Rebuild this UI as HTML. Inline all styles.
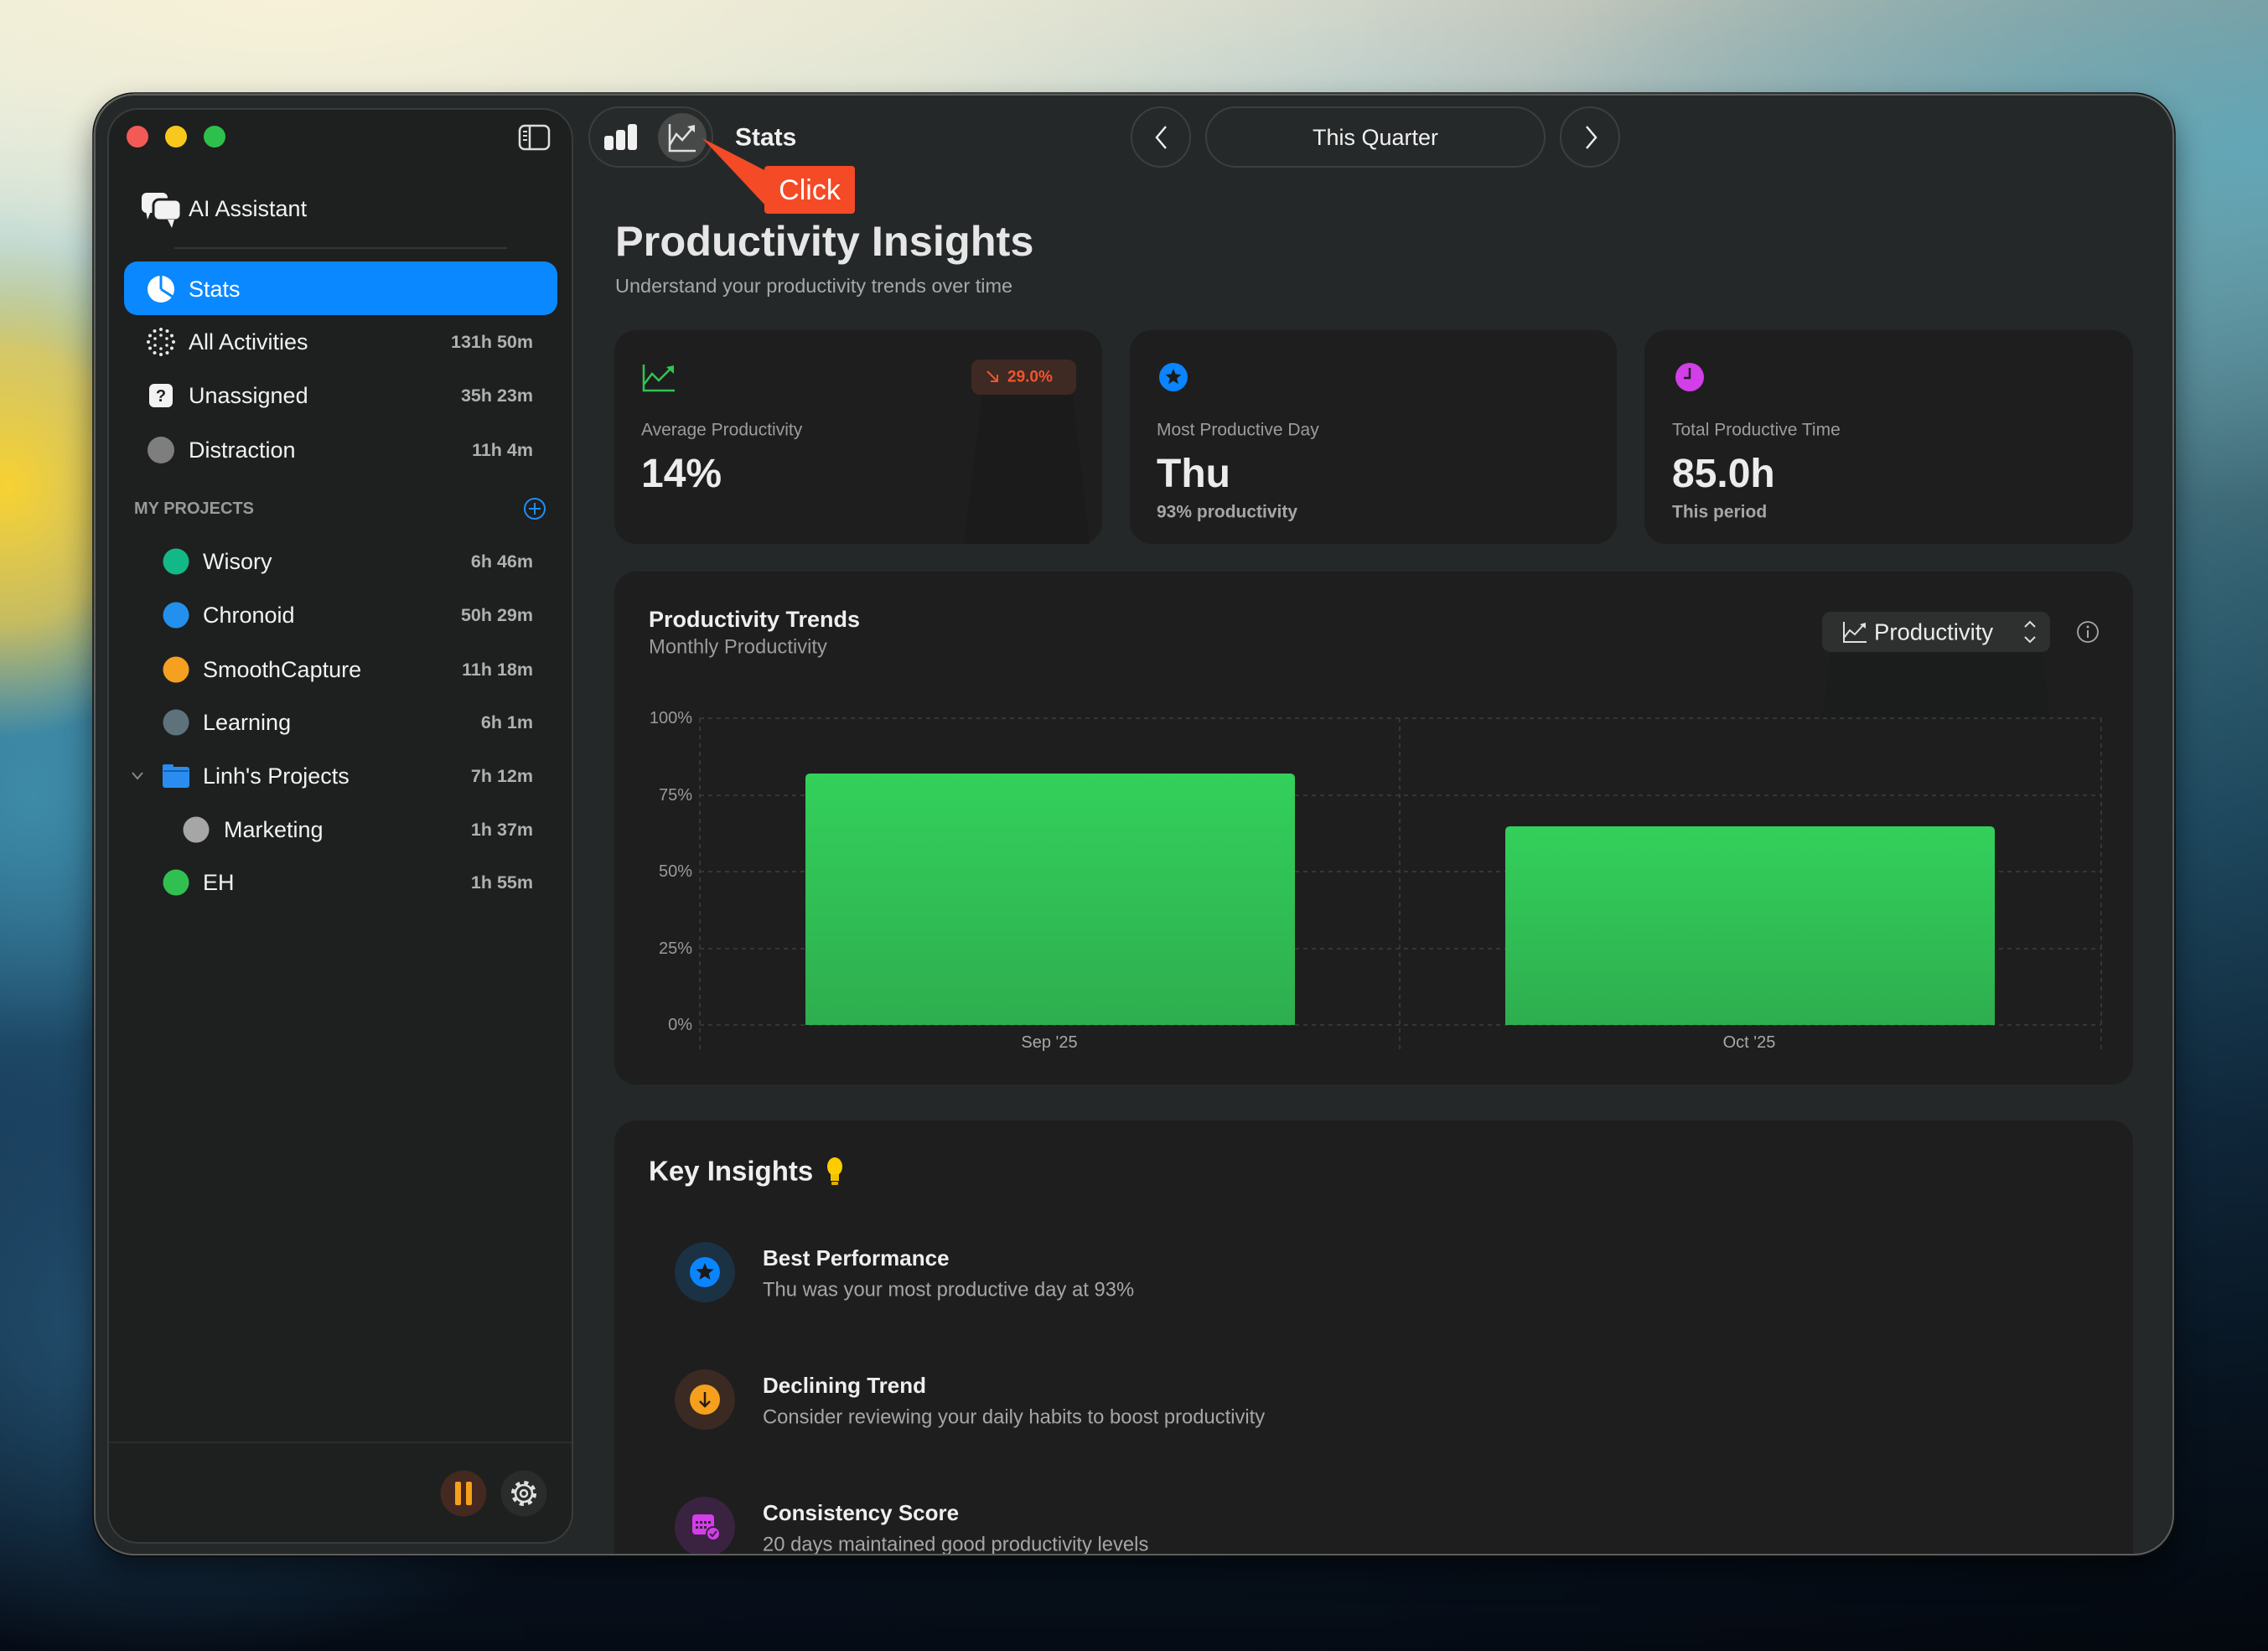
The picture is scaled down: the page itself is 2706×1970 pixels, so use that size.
<!DOCTYPE html>
<html>
<head>
<meta charset="utf-8">
<style>
html,body{margin:0;padding:0;width:2706px;height:1970px;overflow:hidden;background:#0b1a2a;}
svg{display:block;font-family:"Liberation Sans",Arial,sans-serif;}
</style>
</head>
<body>
<svg width="2706" height="1970" viewBox="0 0 2706 1970" xmlns="http://www.w3.org/2000/svg">
<defs>
  <linearGradient id="bgv" x1="0" y1="0" x2="0" y2="1">
    <stop offset="0" stop-color="#e6ecdf"/>
    <stop offset="0.07" stop-color="#cfe4e2"/>
    <stop offset="0.2" stop-color="#86c0cb"/>
    <stop offset="0.35" stop-color="#4d93ac"/>
    <stop offset="0.5" stop-color="#2d6c8d"/>
    <stop offset="0.68" stop-color="#173a57"/>
    <stop offset="0.85" stop-color="#0b1d2f"/>
    <stop offset="1" stop-color="#060c16"/>
  </linearGradient>
  <linearGradient id="bgh" x1="0" y1="0" x2="1" y2="0">
    <stop offset="0" stop-color="#000" stop-opacity="0"/>
    <stop offset="0.6" stop-color="#000" stop-opacity="0.1"/>
    <stop offset="1" stop-color="#000" stop-opacity="0.35"/>
  </linearGradient>
  <radialGradient id="cream" cx="0.5" cy="0.5" r="0.5">
    <stop offset="0" stop-color="#f7f1d8" stop-opacity="1"/>
    <stop offset="0.6" stop-color="#f2eed6" stop-opacity="0.6"/>
    <stop offset="1" stop-color="#f2eed6" stop-opacity="0"/>
  </radialGradient>
  <radialGradient id="yel" cx="0.5" cy="0.5" r="0.5">
    <stop offset="0" stop-color="#f8d232" stop-opacity="1"/>
    <stop offset="0.55" stop-color="#efcb4a" stop-opacity="0.75"/>
    <stop offset="1" stop-color="#e8d070" stop-opacity="0"/>
  </radialGradient>
  <radialGradient id="teal" cx="0.5" cy="0.5" r="0.5">
    <stop offset="0" stop-color="#5fa9bb" stop-opacity="0.9"/>
    <stop offset="1" stop-color="#5fa9bb" stop-opacity="0"/>
  </radialGradient>
  <radialGradient id="tealL" cx="0.5" cy="0.5" r="0.5">
    <stop offset="0" stop-color="#3f8eaa" stop-opacity="0.9"/>
    <stop offset="1" stop-color="#3f8eaa" stop-opacity="0"/>
  </radialGradient>
  <radialGradient id="blueL" cx="0.5" cy="0.5" r="0.5">
    <stop offset="0" stop-color="#2a5f82" stop-opacity="0.8"/>
    <stop offset="1" stop-color="#2a5f82" stop-opacity="0"/>
  </radialGradient>
  <linearGradient id="bar" x1="0" y1="0" x2="0" y2="1">
    <stop offset="0" stop-color="#33d05b"/>
    <stop offset="1" stop-color="#2eae4f"/>
  </linearGradient>
  <clipPath id="win"><rect x="112" y="112" width="2482" height="1744" rx="48"/></clipPath>
  <filter id="sh" x="-10%" y="-10%" width="120%" height="120%"><feGaussianBlur stdDeviation="18"/></filter>
</defs>

<!-- wallpaper -->
<rect width="2706" height="1970" fill="url(#bgv)"/>
<rect width="2706" height="1970" fill="url(#bgh)"/>
<ellipse cx="350" cy="0" rx="1300" ry="420" fill="url(#cream)"/>
<ellipse cx="2706" cy="180" rx="900" ry="420" fill="url(#teal)"/>
<ellipse cx="40" cy="950" rx="260" ry="300" fill="url(#tealL)"/>
<ellipse cx="10" cy="580" rx="260" ry="300" fill="url(#yel)"/>
<ellipse cx="200" cy="1600" rx="600" ry="380" fill="url(#blueL)"/>

<!-- window shadow -->
<rect x="112" y="130" width="2482" height="1744" rx="48" fill="#000" opacity="0.5" filter="url(#sh)"/>

<g clip-path="url(#win)">
  <rect x="112" y="112" width="2482" height="1744" fill="#252828"/>

  <!-- sidebar panel -->
  <rect x="129" y="130" width="554" height="1711" rx="36" fill="#1e1f1f" stroke="#3a3c3c" stroke-width="2"/>

  <!-- traffic lights -->
  <circle cx="164" cy="163" r="13" fill="#f25a55"/>
  <circle cx="210" cy="163" r="13" fill="#f8c81c"/>
  <circle cx="256" cy="163" r="13" fill="#2dc04c"/>

  <!-- sidebar toggle -->
  <rect x="620" y="150" width="35" height="28" rx="6" fill="none" stroke="#dcdcdc" stroke-width="2.5"/>
  <line x1="632" y1="150" x2="632" y2="178" stroke="#dcdcdc" stroke-width="2.5"/>
  <line x1="624" y1="157" x2="629" y2="157" stroke="#dcdcdc" stroke-width="2"/>
  <line x1="624" y1="162" x2="629" y2="162" stroke="#dcdcdc" stroke-width="2"/>
  <line x1="624" y1="167" x2="629" y2="167" stroke="#dcdcdc" stroke-width="2"/>

  <!-- AI assistant -->
  <rect x="169" y="230" width="31" height="24" rx="6" fill="#f2f2f2"/>
  <polygon points="174,252 180,252 176,262" fill="#f2f2f2"/>
  <rect x="183" y="238" width="33" height="25" rx="7" fill="#f2f2f2" stroke="#1e1f1f" stroke-width="3"/>
  <polygon points="200,262 208,262 205,272" fill="#f2f2f2"/>
  <text x="225" y="249" font-size="27" fill="#f2f2f2" dominant-baseline="central">AI Assistant</text>
  <line x1="208" y1="296" x2="605" y2="296" stroke="#343636" stroke-width="2"/>

  <!-- Stats selected -->
  <rect x="148" y="312" width="517" height="64" rx="16" fill="#0a88ff"/>
  <circle cx="192" cy="345" r="16" fill="#ffffff"/>
  <path d="M192,345 L192,328 M192,345 L206,354" stroke="#0a88ff" stroke-width="3"/>
  <text x="225" y="345" font-size="27" fill="#ffffff" dominant-baseline="central">Stats</text>

  <!-- All Activities -->
  <g fill="#e8e8e8">
    <circle cx="207" cy="408" r="2"/><circle cx="205" cy="415.5" r="2"/><circle cx="199.5" cy="421" r="2"/>
    <circle cx="192" cy="423" r="2"/><circle cx="184.5" cy="421" r="2"/><circle cx="179" cy="415.5" r="2"/>
    <circle cx="177" cy="408" r="2"/><circle cx="179" cy="400.5" r="2"/><circle cx="184.5" cy="395" r="2"/>
    <circle cx="192" cy="393" r="2"/><circle cx="199.5" cy="395" r="2"/><circle cx="205" cy="400.5" r="2"/>
    <circle cx="199" cy="412" r="1.8"/><circle cx="192" cy="416" r="1.8"/><circle cx="185" cy="412" r="1.8"/>
    <circle cx="185" cy="404" r="1.8"/><circle cx="192" cy="400" r="1.8"/><circle cx="199" cy="404" r="1.8"/>
  </g>
  <text x="225" y="408" font-size="27" fill="#f2f2f2" dominant-baseline="central">All Activities</text>
  <text x="636" y="408" font-size="21.5" font-weight="bold" fill="#b0b0b0" text-anchor="end" dominant-baseline="central">131h 50m</text>

  <rect x="178" y="458" width="28" height="28" rx="6" fill="#f2f2f2"/>
  <text x="192" y="473" font-size="20" font-weight="bold" fill="#1e1f1f" text-anchor="middle" dominant-baseline="central">?</text>
  <text x="225" y="472" font-size="27" fill="#f2f2f2" dominant-baseline="central">Unassigned</text>
  <text x="636" y="472" font-size="21.5" font-weight="bold" fill="#b0b0b0" text-anchor="end" dominant-baseline="central">35h 23m</text>

  <circle cx="192" cy="537" r="16" fill="#7e7e7e"/>
  <text x="225" y="537" font-size="27" fill="#f2f2f2" dominant-baseline="central">Distraction</text>
  <text x="636" y="537" font-size="21.5" font-weight="bold" fill="#b0b0b0" text-anchor="end" dominant-baseline="central">11h 4m</text>

  <!-- My projects -->
  <text x="160" y="607" font-size="20" font-weight="bold" fill="#999999" dominant-baseline="central">MY PROJECTS</text>
  <circle cx="638" cy="607" r="12" fill="none" stroke="#1e8ef5" stroke-width="2"/>
  <path d="M638,600 V614 M631,607 H645" stroke="#1e8ef5" stroke-width="2"/>

  <circle cx="210" cy="670" r="15.5" fill="#12b886"/>
  <text x="242" y="670" font-size="27" fill="#f2f2f2" dominant-baseline="central">Wisory</text>
  <text x="636" y="670" font-size="21.5" font-weight="bold" fill="#b0b0b0" text-anchor="end" dominant-baseline="central">6h 46m</text>

  <circle cx="210" cy="734" r="15.5" fill="#2290ec"/>
  <text x="242" y="734" font-size="27" fill="#f2f2f2" dominant-baseline="central">Chronoid</text>
  <text x="636" y="734" font-size="21.5" font-weight="bold" fill="#b0b0b0" text-anchor="end" dominant-baseline="central">50h 29m</text>

  <circle cx="210" cy="799" r="15.5" fill="#f5a020"/>
  <text x="242" y="799" font-size="27" fill="#f2f2f2" dominant-baseline="central">SmoothCapture</text>
  <text x="636" y="799" font-size="21.5" font-weight="bold" fill="#b0b0b0" text-anchor="end" dominant-baseline="central">11h 18m</text>

  <circle cx="210" cy="862" r="15.5" fill="#5e727c"/>
  <text x="242" y="862" font-size="27" fill="#f2f2f2" dominant-baseline="central">Learning</text>
  <text x="636" y="862" font-size="21.5" font-weight="bold" fill="#b0b0b0" text-anchor="end" dominant-baseline="central">6h 1m</text>

  <polyline points="158,922 164,929 170,922" fill="none" stroke="#888" stroke-width="2"/>
  <rect x="194" y="912" width="13" height="8" rx="2" fill="#2a8cf0"/>
  <rect x="194" y="915" width="32" height="25" rx="3" fill="#2a8cf0"/>
  <line x1="195" y1="920" x2="225" y2="920" stroke="#1a5fb0" stroke-width="2"/>
  <text x="242" y="926" font-size="27" fill="#f2f2f2" dominant-baseline="central">Linh's Projects</text>
  <text x="636" y="926" font-size="21.5" font-weight="bold" fill="#b0b0b0" text-anchor="end" dominant-baseline="central">7h 12m</text>

  <circle cx="234" cy="990" r="15.5" fill="#a6a6a6"/>
  <text x="267" y="990" font-size="27" fill="#f2f2f2" dominant-baseline="central">Marketing</text>
  <text x="636" y="990" font-size="21.5" font-weight="bold" fill="#b0b0b0" text-anchor="end" dominant-baseline="central">1h 37m</text>

  <circle cx="210" cy="1053" r="15.5" fill="#30c050"/>
  <text x="242" y="1053" font-size="27" fill="#f2f2f2" dominant-baseline="central">EH</text>
  <text x="636" y="1053" font-size="21.5" font-weight="bold" fill="#b0b0b0" text-anchor="end" dominant-baseline="central">1h 55m</text>

  <!-- sidebar bottom -->
  <line x1="130" y1="1721" x2="682" y2="1721" stroke="#2c2e2e" stroke-width="2"/>
  <circle cx="553" cy="1782" r="27.5" fill="#43291f"/>
  <rect x="543" y="1768" width="7" height="28" rx="2" fill="#f5a01c"/>
  <rect x="556" y="1768" width="7" height="28" rx="2" fill="#f5a01c"/>
  <circle cx="625" cy="1782" r="27.5" fill="#2a2c2c"/>
  <circle cx="625" cy="1782" r="13" fill="none" stroke="#e0e0e0" stroke-width="4" stroke-dasharray="5 5.2"/>
  <circle cx="625" cy="1782" r="10" fill="none" stroke="#e0e0e0" stroke-width="2.5"/>
  <circle cx="625" cy="1782" r="4" fill="none" stroke="#e0e0e0" stroke-width="2.5"/>

  <!-- toolbar -->
  <rect x="703" y="128" width="147" height="71" rx="35.5" fill="#272a2a" stroke="#3c3f3f" stroke-width="2"/>
  <rect x="721" y="162" width="11" height="17" rx="3" fill="#f0f0f0"/>
  <rect x="735" y="155" width="11" height="24" rx="3" fill="#f0f0f0"/>
  <rect x="749" y="148" width="11" height="31" rx="3" fill="#f0f0f0"/>
  <circle cx="814" cy="164" r="29" fill="#474949"/>
  <polyline points="799,148 799,180 830,180" fill="none" stroke="#e0e0e0" stroke-width="2.5"/>
  <polyline points="799,173 807,160 814,167 826,153" fill="none" stroke="#e0e0e0" stroke-width="2.5"/>
  <polygon points="829,149 829,158 820,151" fill="#e0e0e0"/>
  <text x="877" y="164" font-size="30" font-weight="bold" fill="#f0f0f0" dominant-baseline="central">Stats</text>

  <rect x="1350" y="128" width="70" height="71" rx="35" fill="#262929" stroke="#3c3f3f" stroke-width="2"/>
  <polyline points="1391,151 1380,164 1391,177" fill="none" stroke="#eeeeee" stroke-width="2.5"/>
  <rect x="1439" y="128" width="404" height="71" rx="35.5" fill="#262929" stroke="#3c3f3f" stroke-width="2"/>
  <text x="1641" y="164" font-size="27" fill="#f0f0f0" text-anchor="middle" dominant-baseline="central">This Quarter</text>
  <rect x="1862" y="128" width="70" height="71" rx="35" fill="#262929" stroke="#3c3f3f" stroke-width="2"/>
  <polyline points="1893,151 1904,164 1893,177" fill="none" stroke="#eeeeee" stroke-width="2.5"/>

  <!-- Click callout -->
  <polygon points="838,165 914,204 914,246" fill="#f44a26"/>
  <rect x="912" y="198" width="108" height="57" rx="4" fill="#f44a26"/>
  <text x="966" y="227" font-size="34" fill="#ffffff" text-anchor="middle" dominant-baseline="central">Click</text>

  <!-- heading -->
  <text x="734" y="305" font-size="50.5" font-weight="bold" fill="#e6e6e6">Productivity Insights</text>
  <text x="734" y="341" font-size="23.5" fill="#a8a8a8" dominant-baseline="central">Understand your productivity trends over time</text>

  <!-- stat cards -->
  <rect x="733" y="394" width="582" height="255" rx="26" fill="#1e1e1e"/>
  <path d="M1172,471 L1280,471 L1300,649 L1150,649 Z" fill="#1b1b1b"/>
  <polyline points="768,435 768,466 805,466" fill="none" stroke="#30c552" stroke-width="2.5"/>
  <polyline points="768,459 778,446 786,454 799,441" fill="none" stroke="#30c552" stroke-width="2.5"/>
  <polygon points="804,436 804,446 795,438" fill="#30c552"/>
  <rect x="1159" y="429" width="125" height="42" rx="10" fill="#3e2923"/>
  <path d="M1178,443 L1190,455 M1190,447 V455 H1182" fill="none" stroke="#f0552d" stroke-width="2"/>
  <text x="1202" y="450" font-size="19" font-weight="bold" fill="#f0552d" dominant-baseline="central">29.0%</text>
  <text x="765" y="513" font-size="21" fill="#9c9c9c" dominant-baseline="central">Average Productivity</text>
  <text x="765" y="581" font-size="48" font-weight="bold" fill="#ececec">14%</text>

  <rect x="1348" y="394" width="581" height="255" rx="26" fill="#1e1e1e"/>
  <circle cx="1400" cy="450" r="17" fill="#0a84ff"/>
  <polygon points="1400,440 1402.6,446.4 1409.5,447 1404.2,451.4 1405.9,458.1 1400,454.5 1394.1,458.1 1395.8,451.4 1390.5,447 1397.4,446.4" fill="#1a1a1a"/>
  <text x="1380" y="513" font-size="21" fill="#9c9c9c" dominant-baseline="central">Most Productive Day</text>
  <text x="1380" y="581" font-size="48" font-weight="bold" fill="#ececec">Thu</text>
  <text x="1380" y="611" font-size="21" font-weight="bold" fill="#a6a6a6" dominant-baseline="central">93% productivity</text>

  <rect x="1962" y="394" width="583" height="255" rx="26" fill="#1e1e1e"/>
  <circle cx="2016" cy="450" r="17" fill="#d23ee8"/>
  <path d="M2016,439 V451 H2009" fill="none" stroke="#1e1e1e" stroke-width="2.5"/>
  <text x="1995" y="513" font-size="21" fill="#9c9c9c" dominant-baseline="central">Total Productive Time</text>
  <text x="1995" y="581" font-size="48" font-weight="bold" fill="#ececec">85.0h</text>
  <text x="1995" y="611" font-size="21" font-weight="bold" fill="#a6a6a6" dominant-baseline="central">This period</text>

  <!-- chart card -->
  <rect x="733" y="682" width="1812" height="612" rx="26" fill="#1e1e1e"/>
  <text x="774" y="739" font-size="27" font-weight="bold" fill="#efefef" dominant-baseline="central">Productivity Trends</text>
  <text x="774" y="772" font-size="23.8" fill="#9c9c9c" dominant-baseline="central">Monthly Productivity</text>

  <path d="M2184,778 L2436,778 L2446,857 L2174,857 Z" fill="#1b1c1c"/>
  <rect x="2174" y="730" width="272" height="48" rx="10" fill="#2e2f2f"/>
  <polyline points="2200,742 2200,766 2227,766" fill="none" stroke="#e0e0e0" stroke-width="2"/>
  <polyline points="2200,761 2207,752 2213,757 2223,746" fill="none" stroke="#e0e0e0" stroke-width="2"/>
  <polygon points="2226,743 2226,750 2219,745" fill="#e0e0e0"/>
  <text x="2236" y="754" font-size="27.5" fill="#ececec" dominant-baseline="central">Productivity</text>
  <polyline points="2416,748 2422,742 2428,748" fill="none" stroke="#dddddd" stroke-width="2"/>
  <polyline points="2416,760 2422,766 2428,760" fill="none" stroke="#dddddd" stroke-width="2"/>
  <circle cx="2491" cy="754" r="12" fill="none" stroke="#a8a8a8" stroke-width="1.8"/>
  <circle cx="2491" cy="748" r="1.5" fill="#a8a8a8"/>
  <line x1="2491" y1="752" x2="2491" y2="761" stroke="#a8a8a8" stroke-width="2"/>

  <g stroke="#3e3e3e" stroke-width="1.5" stroke-dasharray="5 5">
    <line x1="835" y1="857" x2="2507" y2="857"/>
    <line x1="835" y1="949" x2="2507" y2="949"/>
    <line x1="835" y1="1040" x2="2507" y2="1040"/>
    <line x1="835" y1="1132" x2="2507" y2="1132"/>
    <line x1="835" y1="1223" x2="2507" y2="1223"/>
    <line x1="835" y1="857" x2="835" y2="1257"/>
    <line x1="1670" y1="857" x2="1670" y2="1257"/>
    <line x1="2507" y1="857" x2="2507" y2="1257"/>
  </g>
  <g font-size="20" fill="#9a9a9a" text-anchor="end" dominant-baseline="central">
    <text x="826" y="857">100%</text>
    <text x="826" y="949">75%</text>
    <text x="826" y="1040">50%</text>
    <text x="826" y="1132">25%</text>
    <text x="826" y="1223">0%</text>
  </g>
  <path d="M961,1223 V929 Q961,923 967,923 H1539 Q1545,923 1545,929 V1223 Z" fill="url(#bar)"/>
  <path d="M1796,1223 V992 Q1796,986 1802,986 H2374 Q2380,986 2380,992 V1223 Z" fill="url(#bar)"/>
  <text x="1252" y="1244" font-size="20" fill="#a8a8a8" text-anchor="middle" dominant-baseline="central">Sep '25</text>
  <text x="2087" y="1244" font-size="20" fill="#a8a8a8" text-anchor="middle" dominant-baseline="central">Oct '25</text>

  <!-- key insights -->
  <rect x="733" y="1337" width="1812" height="700" rx="26" fill="#1e1e1e"/>
  <text x="774" y="1397" font-size="33" font-weight="bold" fill="#efefef" dominant-baseline="central">Key Insights</text>
  <ellipse cx="996" cy="1392" rx="9" ry="11" fill="#ffcc00"/>
  <rect x="991" y="1401" width="10" height="8" fill="#f2c200"/>
  <rect x="992" y="1410" width="8" height="4" rx="1" fill="#e0b000"/>

  <circle cx="841" cy="1518" r="36" fill="#1b3144"/>
  <circle cx="841" cy="1518" r="18" fill="#0a84ff"/>
  <polygon points="841,1507 843.9,1514 851.5,1514.6 845.7,1519.5 847.5,1526.9 841,1522.9 834.5,1526.9 836.3,1519.5 830.5,1514.6 838.1,1514" fill="#1a1a1a"/>
  <text x="910" y="1501" font-size="26" font-weight="bold" fill="#efefef" dominant-baseline="central">Best Performance</text>
  <text x="910" y="1539" font-size="23.8" fill="#a6a6a6" dominant-baseline="central">Thu was your most productive day at 93%</text>

  <circle cx="841" cy="1670" r="36" fill="#3b2a22"/>
  <circle cx="841" cy="1670" r="18" fill="#f5a01c"/>
  <path d="M841,1661 V1678 M835,1672 L841,1678 L847,1672" fill="none" stroke="#2a1a10" stroke-width="2.5"/>
  <text x="910" y="1653" font-size="26" font-weight="bold" fill="#efefef" dominant-baseline="central">Declining Trend</text>
  <text x="910" y="1691" font-size="23.8" fill="#a6a6a6" dominant-baseline="central">Consider reviewing your daily habits to boost productivity</text>

  <circle cx="841" cy="1822" r="36" fill="#3a2340"/>
  <rect x="826" y="1807" width="26" height="24" rx="4" fill="#d23ee8"/>
  <g fill="#3a2340">
    <rect x="830" y="1815" width="3" height="3"/><rect x="835" y="1815" width="3" height="3"/><rect x="840" y="1815" width="3" height="3"/><rect x="845" y="1815" width="3" height="3"/>
    <rect x="830" y="1821" width="3" height="3"/><rect x="835" y="1821" width="3" height="3"/><rect x="840" y="1821" width="3" height="3"/>
  </g>
  <circle cx="851" cy="1830" r="8" fill="#d23ee8" stroke="#3a2340" stroke-width="2"/>
  <polyline points="847,1830 850,1833 855,1827" fill="none" stroke="#3a2340" stroke-width="2"/>
  <text x="910" y="1805" font-size="26" font-weight="bold" fill="#efefef" dominant-baseline="central">Consistency Score</text>
  <text x="910" y="1843" font-size="23.8" fill="#a6a6a6" dominant-baseline="central">20 days maintained good productivity levels</text>
</g>

<!-- window border -->
<rect x="113" y="113" width="2480" height="1742" rx="47" fill="none" stroke="#5c5e5e" stroke-width="2"/>
<rect x="111" y="111" width="2484" height="1746" rx="49" fill="none" stroke="#0c0c0c" stroke-width="1.5"/>
</svg>
</body>
</html>
